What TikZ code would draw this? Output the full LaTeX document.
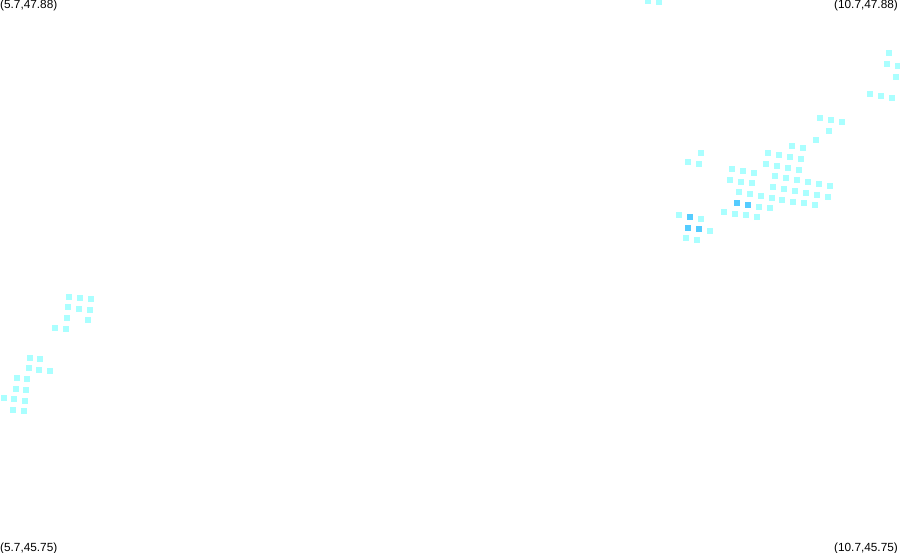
\documentclass[tikz,border=0pt]{standalone}
\usepackage{fontspec}
\setmainfont{Liberation Sans}
\definecolor{lightcell}{HTML}{AAFFFF}
\definecolor{darkcell}{HTML}{55CCFF}
\tikzset{
  lo/.style={fill=lightcell,inner sep=0pt,minimum size=6pt,rectangle},
  hi/.style={fill=darkcell,inner sep=0pt,minimum size=6pt,rectangle},
  corner/.style={inner sep=0pt,font=\fontsize{11.8pt}{12pt}\selectfont}
}
\begin{document}
\begin{tikzpicture}[x=1pt,y=-1pt]
  \useasboundingbox (0,0) rectangle (900,552);
  \node[corner,anchor=west] (topleft) at (0,5) {(5.7,47.88)};
  \node[corner,anchor=east] (topright) at (898,5) {(10.7,47.88)};
  \node[corner,anchor=west] (bottomleft) at (0,548) {(5.7,45.75)};
  \node[corner,anchor=east] (bottomright) at (898,548) {(10.7,45.75)};
  \draw
    (648,1) node[lo] (a1){}
    (659,2) node[lo] (a2){}
    (889,53) node[lo] (a3){}
    (887,64) node[lo] (a4){}
    (898,66) node[lo] (a5){}
    (896,77) node[lo] (a6){}
    (870,94) node[lo] (a7){}
    (881,96) node[lo] (a8){}
    (892,98) node[lo] (a9){};
  \draw
    (820,118) node[lo] (b1){}
    (831,120) node[lo] (b2){}
    (842,122) node[lo] (b3){}
    (829,131) node[lo] (b4){}
    (816,140) node[lo] (b5){}
    (792,146) node[lo] (b6){}
    (803,148) node[lo] (b7){}
    (768,153) node[lo] (b8){}
    (779,155) node[lo] (b9){}
    (790,157) node[lo] (b10){}
    (801,159) node[lo] (b11){}
    (766,164) node[lo] (b12){}
    (777,166) node[lo] (b13){}
    (788,168) node[lo] (b14){}
    (799,170) node[lo] (b15){}
    (775,176) node[lo] (b16){}
    (786,178) node[lo] (b17){}
    (797,180) node[lo] (b18){}
    (808,182) node[lo] (b19){}
    (819,184) node[lo] (b20){}
    (830,186) node[lo] (b21){}
    (773,187) node[lo] (b22){}
    (784,189) node[lo] (b23){}
    (795,191) node[lo] (b24){}
    (806,193) node[lo] (b25){}
    (817,195) node[lo] (b26){}
    (828,197) node[lo] (b27){}
    (772,198) node[lo] (b28){}
    (782,200) node[lo] (b29){}
    (793,202) node[lo] (b30){}
    (804,203) node[lo] (b31){}
    (815,205) node[lo] (b32){}
    (770,208) node[lo] (b33){};
  \draw
    (701,153) node[lo] (c1){}
    (688,162) node[lo] (c2){}
    (699,164) node[lo] (c3){}
    (732,169) node[lo] (c4){}
    (743,171) node[lo] (c5){}
    (754,173) node[lo] (c6){}
    (730,180) node[lo] (c7){}
    (741,182) node[lo] (c8){}
    (752,183) node[lo] (c9){}
    (739,192) node[lo] (c10){}
    (750,194) node[lo] (c11){}
    (761,196) node[lo] (c12){}
    (737,203) node[hi] (c13){}
    (748,205) node[hi] (c14){}
    (759,207) node[lo] (c15){}
    (724,212) node[lo] (c16){}
    (735,214) node[lo] (c17){}
    (746,215) node[lo] (c18){}
    (757,217) node[lo] (c19){}
    (679,215) node[lo] (c20){}
    (690,217) node[hi] (c21){}
    (701,219) node[lo] (c22){}
    (688,228) node[hi] (c23){}
    (699,229) node[hi] (c24){}
    (710,231) node[lo] (c25){}
    (686,238) node[lo] (c26){}
    (697,240) node[lo] (c27){};
  \draw
    (69,297) node[lo] (d1){}
    (80,298) node[lo] (d2){}
    (91,299) node[lo] (d3){}
    (68,307) node[lo] (d4){}
    (79,309) node[lo] (d5){}
    (90,310) node[lo] (d6){}
    (67,318) node[lo] (d7){}
    (88,320) node[lo] (d8){}
    (55,328) node[lo] (d9){}
    (66,329) node[lo] (d10){}
    (30,358) node[lo] (d11){}
    (40,359) node[lo] (d12){}
    (29,368) node[lo] (d13){}
    (39,370) node[lo] (d14){}
    (50,371) node[lo] (d15){}
    (17,378) node[lo] (d16){}
    (27,379) node[lo] (d17){}
    (16,389) node[lo] (d18){}
    (26,390) node[lo] (d19){}
    (4,398) node[lo] (d20){}
    (14,399) node[lo] (d21){}
    (25,401) node[lo] (d22){}
    (13,410) node[lo] (d23){}
    (24,411) node[lo] (d24){};
\end{tikzpicture}
\end{document}
